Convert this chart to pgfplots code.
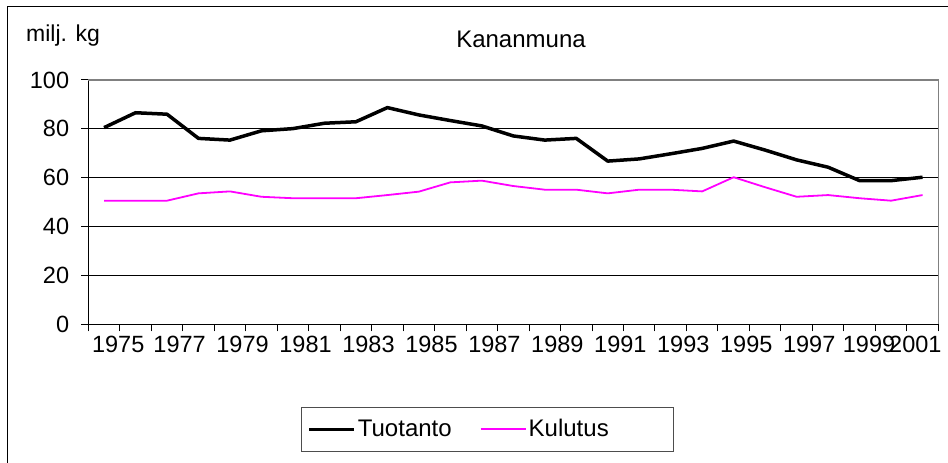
\documentclass[border=0pt]{standalone}
\usepackage{pgfplots}
\pgfplotsset{compat=1.18}
\usepackage{fontspec}
\setmainfont{Liberation Sans}
\definecolor{kul}{RGB}{255,0,255}
\definecolor{frm}{RGB}{128,128,128}
\pgfplotstableread{
year tuo kul
1975 80.5 50.6
1976 86.6 50.6
1977 86.0 50.6
1978 76.1 53.6
1979 75.4 54.4
1980 79.2 52.2
1981 80.1 51.6
1982 82.3 51.6
1983 82.9 51.6
1984 88.7 52.9
1985 85.7 54.3
1986 83.4 58.1
1987 81.2 58.8
1988 77.1 56.6
1989 75.4 55.1
1990 76.1 55.1
1991 66.8 53.6
1992 67.7 55.1
1993 69.8 55.1
1994 72.0 54.4
1995 75.0 60.2
1996 71.3 56.1
1997 67.3 52.2
1998 64.3 52.9
1999 58.8 51.6
2000 58.8 50.6
2001 60.2 52.9
}\datatable
\begin{document}
\fontsize{23}{27}\selectfont
\begin{tikzpicture}
\useasboundingbox (0pt,0pt) rectangle (948pt,463pt);
\draw[line width=1pt] (7.3pt,-20pt) -- (7.3pt,456.3pt) -- (980pt,456.3pt);
\node[anchor=base west, inner sep=0pt, font=\fontsize{23}{27}\selectfont] at (26pt,421.5pt) {milj. kg};
\node[anchor=base, inner sep=0pt, font=\fontsize{24}{28}\selectfont] at (521pt,415.3pt) {Kananmuna};
\begin{axis}[
  at={(88.3pt,138.7pt)}, anchor=south west,
  scale only axis, width=850pt, height=244.3pt,
  xmin=1974.5, xmax=2001.5, ymin=0, ymax=100,
  ytick={0,20,40,60,80,100},
  ymajorgrids, grid style={black, line width=1pt},
  xtick={1975.45,1977.4,1979.4,1981.4,1983.4,1985.4,1987.4,1989.4,1991.4,1993.4,1995.4,1997.4,1999.3,2000.77},
  xticklabels={1975,1977,1979,1981,1983,1985,1987,1989,1991,1993,1995,1997,1999,2001},
  minor xtick={1974.5,1975.5,...,2001.5},
  major x tick style={draw=none},
  tick align=outside, major tick length=7pt, minor tick length=7pt,
  tick style={black, line width=1pt},
  axis lines*=left, axis line style={black, line width=1pt, -},
  /pgf/number format/assume math mode=true,
  tick label style={font=\fontsize{23.5}{27}\selectfont},
  yticklabel style={inner sep=0pt, xshift=-12pt},
  xticklabel style={inner sep=0pt, yshift=-5pt},
  legend columns=2,
  legend style={at={(0.4697,-0.4306)}, anchor=center, draw=frm!60!black, line width=1pt,
    font=\fontsize{24}{28}\selectfont, inner xsep=6pt, inner ysep=10pt,
    /tikz/every even column/.append style={column sep=26pt}},
  legend cell align=left,
  legend image code/.code={\draw[#1] (0pt,0pt) -- (45pt,0pt);},
  clip=false,
]
\draw[frm, line width=1.3pt] (axis cs:1974.5,100) -- (axis cs:2001.5,100) -- (axis cs:2001.5,0);
\addplot[draw=black, line width=3.5pt, line join=round,
  legend image post style={draw=black, line width=3.5pt}] table[x=year, y=tuo] {\datatable};
\addlegendentry{Tuotanto}
\addplot[draw=kul, line width=1.8pt, line join=round,
  legend image post style={draw=kul, line width=2pt}] table[x=year, y=kul] {\datatable};
\addlegendentry{\makebox[137pt][l]{Kulutus}}
\end{axis}
\end{tikzpicture}
\end{document}
